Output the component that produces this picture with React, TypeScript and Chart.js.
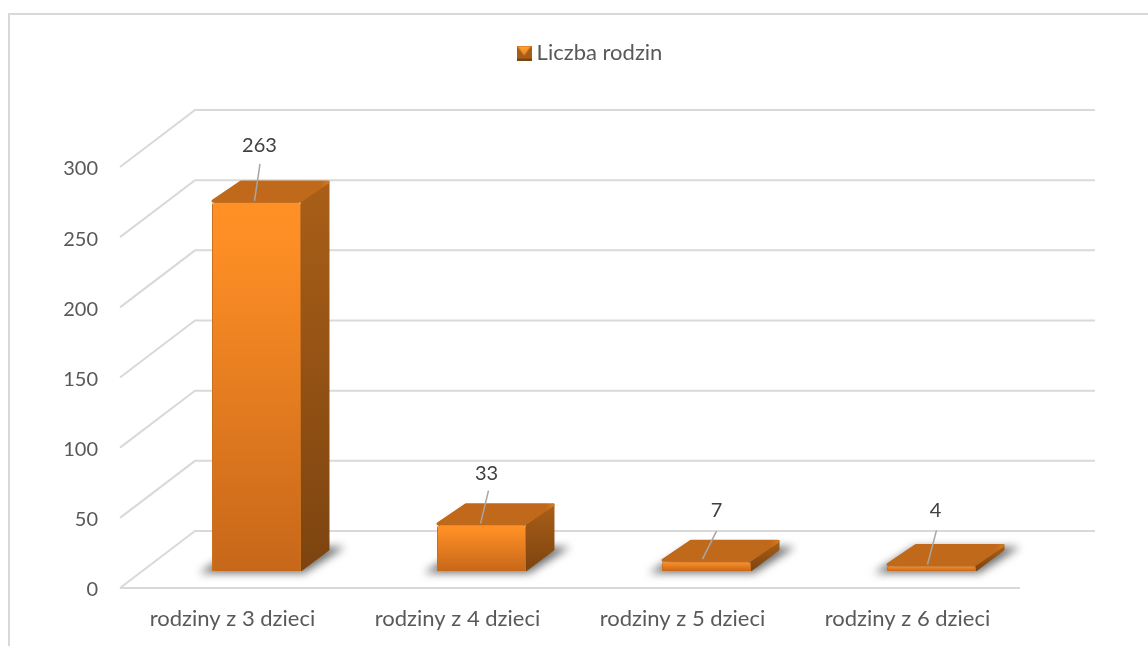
import React, { useEffect, useRef } from "react";
import { Chart, registerables } from "chart.js";

Chart.register(...registerables);

const categories = ["rodziny z 3 dzieci", "rodziny z 4 dzieci", "rodziny z 5 dzieci", "rodziny z 6 dzieci"];
const seriesName = "Liczba rodzin";
const values = [263, 33, 7, 4];
const yTicks = [0, 50, 100, 150, 200, 250, 300];

const TEXT = "#595959";
const LABEL = "#404040";
const GRID = "#d9d9d9";
const FONT = "Lato, 'Open Sans', sans-serif";
const WALL = { dx: 75, dy: -57 };
const ROW = { dx: 24, dy: -17 };
const DEPTH = { dx: 28, dy: -21 };
const labelPos = [
  { tx: 3, ty: -56, lx0: 3.5, ly0: -38, lx1: -2, ly1: -1 },
  { tx: 5, ty: -51, lx0: 7, ly0: -34, lx1: -1, ly1: -1 },
  { tx: 10, ty: -51, lx0: 10, ly0: -30, lx1: -4, ly1: -2 },
  { tx: 4, ty: -55, lx0: 5, ly0: -35, lx1: -4, ly1: -1 },
];

function legendIcon(): HTMLCanvasElement {
  const c = document.createElement("canvas");
  c.width = 15;
  c.height = 15;
  const g = c.getContext("2d")!;
  g.fillStyle = "#a85e18";
  g.fillRect(0, 0, 15, 15);
  g.fillStyle = "#c8701c";
  g.fillRect(0, 0, 15, 2);
  const t = g.createLinearGradient(0, 1, 0, 11);
  t.addColorStop(0, "#ffa030");
  t.addColorStop(1, "#e88420");
  g.fillStyle = t;
  g.beginPath();
  g.moveTo(1, 1);
  g.lineTo(14, 1);
  g.lineTo(7.5, 10);
  g.fill();
  g.fillStyle = "#7d4410";
  g.fillRect(0, 13, 15, 2);
  return c;
}

const scene = {
  id: "scene",
  afterLayout(chart: any) {
    const h = chart.legend.bottom - chart.legend.top;
    chart.legend.left += 82.5;
    chart.legend.right += 82.5;
    chart.legend.top = 58 - h / 2;
    chart.legend.bottom = 58 + h / 2;
  },
  beforeDraw(chart: any) {
    const { ctx, scales } = chart;
    const { x, y } = scales;
    ctx.save();
    ctx.fillStyle = "#fff";
    ctx.fillRect(0, 0, chart.width, chart.height);
    // frame
    ctx.strokeStyle = GRID;
    ctx.lineWidth = 2;
    ctx.beginPath();
    ctx.moveTo(9, chart.height);
    ctx.lineTo(9, 14);
    ctx.lineTo(chart.width, 14);
    ctx.stroke();
    // walls
    ctx.lineWidth = 2;
    ctx.strokeStyle = GRID;
    ctx.beginPath();
    yTicks.forEach((t) => {
      const p = y.getPixelForValue(t);
      ctx.moveTo(x.left, p);
      ctx.lineTo(x.left + WALL.dx, p + WALL.dy);
      ctx.lineTo(x.right + WALL.dx, p + WALL.dy);
    });
    const b = y.getPixelForValue(0);
    ctx.moveTo(x.left, b);
    ctx.lineTo(x.right, b);
    ctx.stroke();
    ctx.restore();
  },
  beforeDatasetsDraw(chart: any) {
    const { ctx } = chart;
    const meta = chart.getDatasetMeta(0);
    ctx.save();
    ctx.translate(ROW.dx, ROW.dy);
    meta.data.forEach((bar: any) => {
      const half = bar.width / 2;
      const l = bar.x - half;
      const r = bar.x + half;
      const top = bar.y;
      const bot = bar.base;
      // soft floor shadow
      ctx.save();
      ctx.filter = "blur(4px)";
      ctx.fillStyle = "#6e6e6e";
      ctx.beginPath();
      ctx.moveTo(l - 13, bot + 2);
      ctx.lineTo(r + 3, bot + 2);
      ctx.lineTo(r + DEPTH.dx + 16, bot + DEPTH.dy - 3);
      ctx.lineTo(l + DEPTH.dx, bot + DEPTH.dy - 3);
      ctx.closePath();
      ctx.fill();
      ctx.restore();
      // side face
      const side = ctx.createLinearGradient(0, top + DEPTH.dy, 0, bot);
      side.addColorStop(0, "#a95f18");
      side.addColorStop(1, "#7d4410");
      ctx.fillStyle = side;
      ctx.strokeStyle = side;
      ctx.lineWidth = 1;
      ctx.lineJoin = "round";
      ctx.beginPath();
      ctx.moveTo(r, top);
      ctx.lineTo(r + DEPTH.dx, top + DEPTH.dy);
      ctx.lineTo(r + DEPTH.dx, bot + DEPTH.dy);
      ctx.lineTo(r, bot);
      ctx.closePath();
      ctx.fill();
      ctx.stroke();
      // top face
      const lid = ctx.createLinearGradient(r - 6, top + DEPTH.dy, r + DEPTH.dx, top + DEPTH.dy);
      lid.addColorStop(0, "#c0691a");
      lid.addColorStop(0.75, "#c0691a");
      lid.addColorStop(1, "#d27a22");
      ctx.fillStyle = lid;
      ctx.strokeStyle = lid;
      ctx.lineWidth = 3;
      ctx.lineJoin = "round";
      ctx.beginPath();
      ctx.moveTo(l + 1, top - 1);
      ctx.lineTo(l + DEPTH.dx + 1, top + DEPTH.dy + 1);
      ctx.lineTo(r + DEPTH.dx - 1, top + DEPTH.dy + 1);
      ctx.lineTo(r - 1, top - 1);
      ctx.closePath();
      ctx.fill();
      ctx.stroke();
    });
  },
  afterDatasetsDraw(chart: any) {
    const { ctx } = chart;
    const meta = chart.getDatasetMeta(0);
    ctx.restore();
    ctx.save();
    meta.data.forEach((bar: any, i: number) => {
      const fx = bar.x + ROW.dx;
      const fy = bar.y + ROW.dy;
      const p = labelPos[i];
      ctx.strokeStyle = "#a6a6a6";
      ctx.lineWidth = 1.5;
      ctx.beginPath();
      ctx.moveTo(fx + p.lx0, fy + p.ly0);
      ctx.lineTo(fx + p.lx1, fy + p.ly1);
      ctx.stroke();
      ctx.fillStyle = LABEL;
      ctx.font = `20px ${FONT}`;
      ctx.textAlign = "center";
      ctx.textBaseline = "middle";
      ctx.fillText(String(values[i]), fx + p.tx, fy + p.ty);
    });
    ctx.restore();
  },
};

export default function App() {
  const ref = useRef<HTMLCanvasElement>(null);
  useEffect(() => {
    document.body.style.margin = "0";
    const chart = new Chart(ref.current!, {
      type: "bar",
      data: {
        labels: categories,
        datasets: [
          {
            label: seriesName,
            data: values,
            barPercentage: 0.3955,
            categoryPercentage: 1,
            borderRadius: { topLeft: 3, topRight: 3, bottomLeft: 0, bottomRight: 0 },
            borderSkipped: "bottom",
            borderWidth: 1,
            borderColor: "#c9701f",
            backgroundColor: (c: any) => {
              const { chart: ch, parsed } = c;
              if (!parsed || !ch.scales.y) return "#e07a20";
              const yTop = ch.scales.y.getPixelForValue(parsed.y);
              const yBot = ch.scales.y.getPixelForValue(0);
              const g = ch.ctx.createLinearGradient(0, yTop, 0, yBot);
              g.addColorStop(0, "#ff9026");
              g.addColorStop(0.12, "#fd8e25");
              g.addColorStop(1, "#c7671a");
              return g;
            },
          },
        ],
      },
      options: {
        responsive: false,
        animation: false,
        devicePixelRatio: 1,
        layout: { padding: { left: 0, right: 128, top: 135, bottom: 0 } },
        plugins: {
          tooltip: { enabled: false },
          title: { display: false },
          legend: {
            display: true,
            position: "top",
            labels: {
              usePointStyle: true,
              boxWidth: 3,
              generateLabels: () => [
                { text: seriesName, pointStyle: legendIcon(), fontColor: TEXT, lineWidth: 0, datasetIndex: 0 } as any,
              ],
              color: TEXT,
              font: { family: FONT, size: 22 },
              padding: 0,
            },
          },
        },
        scales: {
          x: {
            type: "category",
            grid: { display: false, drawTicks: false },
            border: { display: false },
            ticks: { color: TEXT, font: { family: FONT, size: 22 }, padding: 18, maxRotation: 0, autoSkip: false },
            afterFit: (s: any) => {
              s.height = 58;
            },
          },
          y: {
            min: 0,
            max: 300,
            afterBuildTicks: (s: any) => {
              s.ticks = yTicks.map((v) => ({ value: v }));
            },
            grid: { display: false, drawTicks: false },
            border: { display: false },
            ticks: { color: TEXT, font: { family: FONT, size: 20 }, padding: 22, labelOffset: 2 },
            afterFit: (s: any) => {
              s.width = 120;
            },
          },
        },
      },
      plugins: [scene],
    } as any);
    return () => chart.destroy();
  }, []);
  return (
    <div style={{ position: "absolute", left: 0, top: 0, width: 1148, height: 646 }}>
      <canvas ref={ref} width={1148} height={646} style={{ display: "block" }} />
    </div>
  );
}
